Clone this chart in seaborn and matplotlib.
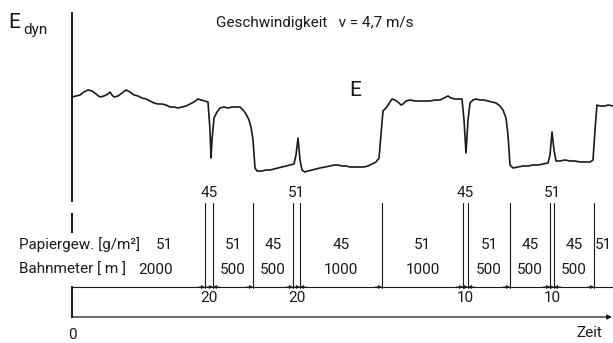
import matplotlib
matplotlib.use("Agg")
import matplotlib.pyplot as plt
import seaborn as sns
import pandas as pd

# traced recording (time in drawing units from origin, E_dyn in drawing units)
sig_x = [72, 76, 80, 84, 88, 92, 96, 100, 104, 108, 110, 112, 114, 118, 122, 126, 130, 134,
         138, 142, 146, 150, 154, 158, 162, 166, 170, 174, 178, 182, 186, 190, 194, 198, 201,
         205, 208, 210, 211, 212, 214, 217, 220, 224, 228, 232, 236, 240, 243, 246, 249, 251,
         253, 255, 257, 262, 266, 270, 274, 278, 282, 286, 290, 294, 296, 298, 300, 302, 305,
         308, 312, 316, 320, 325, 330, 334, 338, 342, 346, 350, 355, 360, 364, 368, 372, 376,
         379, 381, 383, 386, 390, 392, 395, 398, 401, 403, 406, 410, 415, 420, 425, 430, 435,
         440, 444, 448, 451, 455, 459, 462, 464, 466, 468, 470, 473, 476, 480, 484, 488, 492,
         496, 500, 503, 506, 508, 510, 513, 518, 523, 528, 533, 538, 543, 548, 550, 552, 554,
         556, 560, 565, 570, 575, 580, 585, 590, 593, 595, 597, 600, 605, 608, 613]
sig_y = [97, 96, 95, 92, 90, 91, 94, 97, 96, 94, 92, 95, 97, 96, 93, 90, 92, 95,
         96, 98, 99, 101, 103, 104, 104, 105, 107, 107, 108, 107, 106, 104, 102, 99, 100,
         101, 102, 130, 158, 140, 118, 112, 108, 107, 108, 107, 107, 107, 110, 114, 120, 127,
         140, 168, 171, 171, 170, 170, 169, 168, 167, 166, 165, 164, 155, 138, 160, 170, 172,
         171, 170, 169, 168, 167, 166, 165, 165, 166, 166, 167, 167, 167, 167, 166, 164, 162,
         158, 135, 111, 108, 102, 99, 100, 102, 105, 104, 101, 100, 101, 101, 101, 101, 100,
         100, 98, 96, 98, 99, 99, 99, 120, 153, 120, 103, 100, 99, 100, 100, 101, 102,
         103, 106, 110, 118, 135, 165, 168, 167, 166, 166, 165, 165, 164, 163, 155, 132, 150,
         161, 161, 160, 161, 161, 162, 162, 162, 160, 130, 105, 106, 106, 105, 106]

# paper runs: boundaries on the time axis, grammage and web length per run
run_start = [0, 133, 141, 181, 221, 228, 310, 391, 396, 438, 478, 482, 522]
run_end = [133, 141, 181, 221, 228, 310, 391, 396, 438, 478, 482, 522, 541]
paper_gsm = [51, 45, 51, 45, 51, 45, 51, 45, 51, 45, 51, 45, 51]
web_m = [2000, 20, 500, 500, 20, 1000, 1000, 10, 500, 500, 10, 500, None]

df = pd.DataFrame({"t": [x - 72 for x in sig_x], "E": [200 - y for y in sig_y]})

sns.set_style("white")
plt.rcParams["font.family"] = ["Roboto", "DejaVu Sans"]
ink = "#1a1a1a"
fs = 11

fig = plt.figure(figsize=(6.13, 3.43), dpi=100)
ax = fig.add_axes([0, 0, 1, 1])
ax.set_xlim(-72, 541)
ax.set_ylim(-143, 200)
ax.axis("off")

sns.lineplot(data=df, x="t", y="E", ax=ax, color=ink, lw=1.2, sort=False)

# vertical axis (broken near the origin, like the drawing)
for y0, y1 in [(-2, 188), (-33, -13), (-118, -86)]:
    ax.plot([0, 0], [y0, y1], color=ink, lw=1.4, solid_capstyle="butt")

ax.text(-64, 178, "E", fontsize=15, color=ink, va="center", ha="left")
ax.text(-49, 170, "dyn", fontsize=11, color=ink, va="center", ha="left")
ax.text(144, 177, "Geschwindigkeit   v = 4,7 m/s", fontsize=fs, color=ink,
        va="center", ha="left")
ax.text(283, 109, "E", fontsize=15, color=ink, va="center", ha="center")

# dimension line and time axis
dim_y = -87
ax.plot([0, 541], [dim_y, dim_y], color=ink, lw=0.8)
ax.annotate("", xy=(540, -117), xytext=(0, -117),
            arrowprops=dict(arrowstyle="-|>", lw=0.9, color=ink, mutation_scale=7,
                            shrinkA=0, shrinkB=0))

row1_y, row2_y = -45, -70
for i, (a, b) in enumerate(zip(run_start, run_end)):
    if a > 0:
        ax.plot([a, a], [-3, -88], color=ink, lw=0.8)
        ax.annotate("", xy=(a, dim_y), xytext=(a - 7, dim_y),
                    arrowprops=dict(arrowstyle="-|>", lw=0.6, color=ink,
                                    mutation_scale=5, shrinkA=0, shrinkB=0))
    mid = (a + b) / 2
    m = web_m[i]
    if i == 0:
        ax.text(-53, row1_y, "Papiergew. [g/m²]", fontsize=fs, color=ink, va="center")
        ax.text(-53, row2_y, "Bahnmeter [ m ]", fontsize=fs, color=ink, va="center")
        ax.text(101, row1_y, str(paper_gsm[i]), fontsize=fs, color=ink, va="center", ha="right")
        ax.text(101, row2_y, str(m), fontsize=fs, color=ink, va="center", ha="right")
    elif m is not None and m < 100:
        # short run: labels above the lines and below the dimension line
        ax.text(mid, 7, str(paper_gsm[i]), fontsize=fs, color=ink, va="center", ha="center")
        ax.text(mid, -98, str(m), fontsize=fs, color=ink, va="center", ha="center")
        ax.annotate("", xy=(b, dim_y), xytext=(b + 7, dim_y),
                    arrowprops=dict(arrowstyle="-|>", lw=0.6, color=ink,
                                    mutation_scale=5, shrinkA=0, shrinkB=0))
    else:
        ax.text(mid, row1_y, str(paper_gsm[i]), fontsize=fs, color=ink, va="center", ha="center")
        if m is not None:
            ax.text(mid, row2_y, str(m), fontsize=fs, color=ink, va="center", ha="center")

ax.text(0, -135, "0", fontsize=fs, color=ink, va="center", ha="center")
ax.text(530, -133, "Zeit", fontsize=fs, color=ink, va="center", ha="right")

fig.savefig("out.png", dpi=100)
